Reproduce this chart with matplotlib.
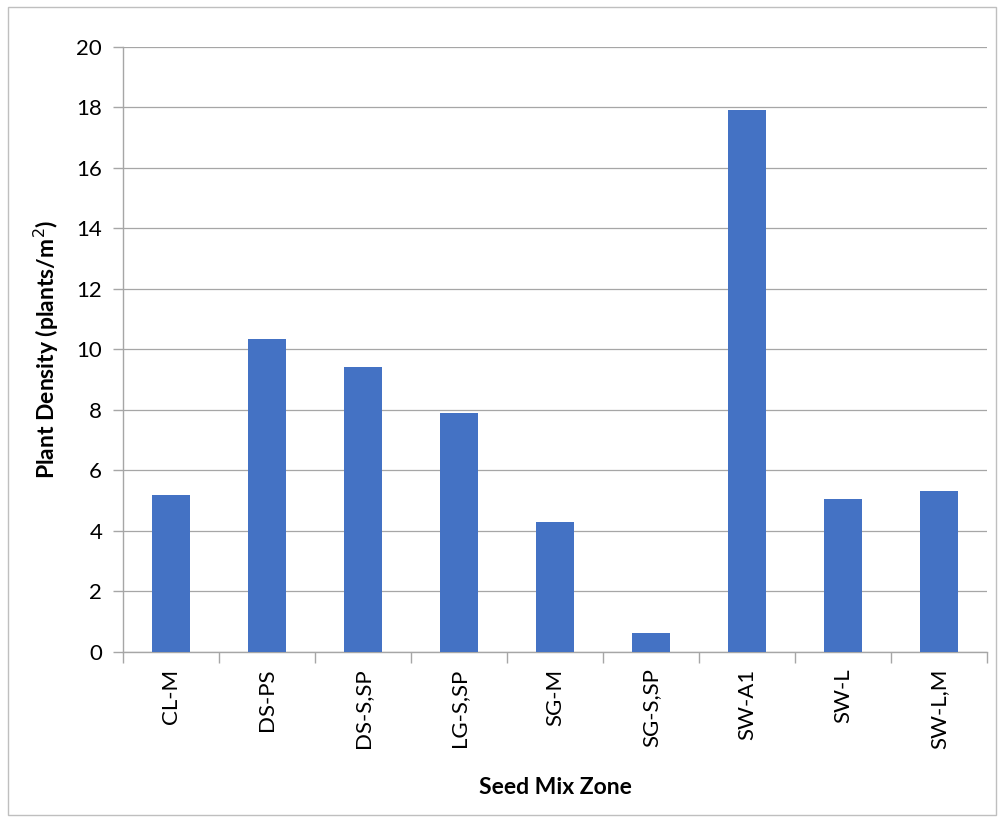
import matplotlib
matplotlib.use("Agg")
import matplotlib.pyplot as plt
from matplotlib.patches import Rectangle

zones = ["CL-M", "DS-PS", "DS-S,SP", "LG-S,SP", "SG-M", "SG-S,SP", "SW-A1", "SW-L", "SW-L,M"]
density = [5.19, 10.33, 9.42, 7.89, 4.29, 0.63, 17.92, 5.05, 5.33]

plt.rcParams["font.family"] = ["Lato", "DejaVu Sans"]

fig = plt.figure(figsize=(10, 8.21), dpi=100)
ax = fig.add_axes([0.123, 0.206, 0.864, 0.737])

x = range(len(zones))
ax.bar(x, density, width=0.4, color="#4472C4", zorder=3)

ax.set_xlim(-0.5, len(zones) - 0.5)
ax.set_ylim(0, 20)
ax.set_yticks(range(0, 21, 2))
ax.yaxis.grid(True, color="#a6a6a6", lw=0.9, zorder=0)
# category separators as major ticks, names on minor ticks
ax.set_xticks([i - 0.5 for i in range(len(zones) + 1)], minor=False)
ax.set_xticklabels([])
ax.set_xticks(list(x), minor=True)
ax.set_xticklabels(zones, minor=True, rotation=90, fontsize=16)
ax.tick_params(axis="x", which="major", length=8, color="#a6a6a6", width=1)
ax.tick_params(axis="x", which="minor", length=0, pad=12)
ax.tick_params(axis="y", length=7, color="#a6a6a6", width=1, labelsize=16, pad=8)

for s in ["top", "right"]:
    ax.spines[s].set_visible(False)
for s in ["left", "bottom"]:
    ax.spines[s].set_color("#a6a6a6")
    ax.spines[s].set_linewidth(1)

ax.set_ylabel("Plant Density (plants/m$^2$)", fontsize=16.5, fontweight="bold", labelpad=11)
ax.set_xlabel("Seed Mix Zone", fontsize=16.5, fontweight="bold", labelpad=20)

fig.patches.append(Rectangle((0.008, 0.007), 0.988, 0.985, transform=fig.transFigure,
                             fill=False, edgecolor="#bfbfbf", lw=1))

fig.savefig("out.png", dpi=100, facecolor="white")
